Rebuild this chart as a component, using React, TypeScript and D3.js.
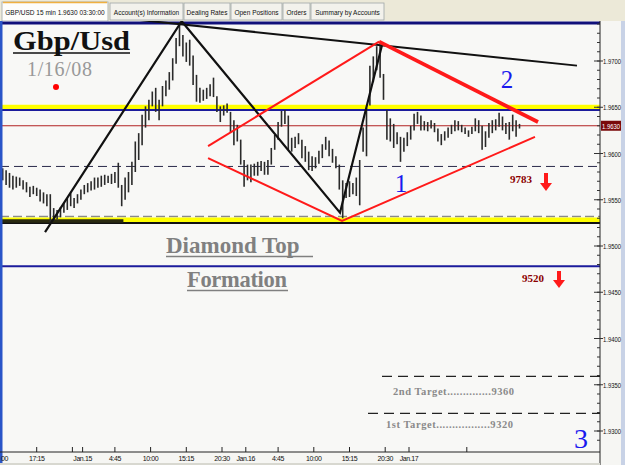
import React from 'react';
import * as d3 from 'd3';

const W = 625;
const H = 465;

// 30-minute groups of the 15-min chart (high / low)
const highs = [
  1.9584, 1.9582, 1.9579, 1.9576, 1.9575, 1.9574, 1.9571, 1.9569, 1.9564, 1.9565,
  1.9563, 1.9561, 1.9558, 1.9556, 1.9556, 1.9541, 1.9539, 1.9542, 1.9547, 1.9552,
  1.9557, 1.9552, 1.9556, 1.9561, 1.9566, 1.9568, 1.9570, 1.9574, 1.9574, 1.9576,
  1.9577, 1.9576, 1.9578, 1.9580, 1.9590, 1.9566, 1.9574, 1.9580, 1.9591, 1.9613,
  1.9622, 1.9642, 1.9651, 1.9658, 1.9667, 1.9671, 1.9658, 1.9673, 1.9679, 1.9688,
  1.9703, 1.9725, 1.9742, 1.9728, 1.9720, 1.9723, 1.9706, 1.9685, 1.9671, 1.9669,
  1.9671, 1.9675, 1.9682, 1.9662, 1.9651, 1.9652, 1.9654, 1.9645, 1.9636, 1.9631,
  1.9615, 1.9593, 1.9588, 1.9588, 1.9589, 1.9591, 1.9592, 1.9591, 1.9593, 1.9606,
  1.9620, 1.9634, 1.9646, 1.9647, 1.9641, 1.9617, 1.9618, 1.9622, 1.9615, 1.9608,
  1.9602, 1.9597, 1.9596, 1.9603, 1.9610, 1.9618, 1.9614, 1.9605, 1.9597, 1.9588,
  1.9571, 1.9568, 1.9570, 1.9568, 1.9574, 1.9593, 1.9628, 1.9649, 1.9695, 1.9705,
  1.9716, 1.9717, 1.9686, 1.9647, 1.9638, 1.9632, 1.9623, 1.9618, 1.9617, 1.9623,
  1.9630, 1.9643, 1.9645, 1.9641, 1.9635, 1.9634, 1.9636, 1.9633, 1.9627, 1.9621,
  1.9624, 1.9628, 1.9631, 1.9636, 1.9635, 1.9631, 1.9628, 1.9625, 1.9629, 1.9638,
  1.9636, 1.9630, 1.9624, 1.9633, 1.9636, 1.9637, 1.9644, 1.9640, 1.9633, 1.9634,
  1.9642, 1.9636, 1.9632,
];
const lows = [
  1.9571, 1.9566, 1.9563, 1.9561, 1.9563, 1.9565, 1.9561, 1.9558, 1.9553, 1.9556,
  1.9554, 1.9548, 1.9546, 1.9543, 1.9524, 1.9527, 1.9529, 1.9531, 1.9536, 1.9539,
  1.9543, 1.9541, 1.9546, 1.9550, 1.9556, 1.9558, 1.9560, 1.9561, 1.9563, 1.9564,
  1.9566, 1.9568, 1.9567, 1.9568, 1.9563, 1.9543, 1.9550, 1.9558, 1.9566, 1.9580,
  1.9593, 1.9609, 1.9628, 1.9636, 1.9651, 1.9645, 1.9636, 1.9651, 1.9662, 1.9669,
  1.9679, 1.9697, 1.9716, 1.9705, 1.9699, 1.9695, 1.9674, 1.9656, 1.9655, 1.9657,
  1.9659, 1.9662, 1.9661, 1.9645, 1.9634, 1.9641, 1.9644, 1.9623, 1.9609, 1.9613,
  1.9588, 1.9564, 1.9571, 1.9569, 1.9576, 1.9576, 1.9581, 1.9577, 1.9577, 1.9588,
  1.9604, 1.9615, 1.9629, 1.9632, 1.9604, 1.9602, 1.9606, 1.9610, 1.9595, 1.9591,
  1.9582, 1.9581, 1.9584, 1.9589, 1.9595, 1.9604, 1.9597, 1.9590, 1.9584, 1.9561,
  1.9530, 1.9552, 1.9553, 1.9556, 1.9554, 1.9544, 1.9602, 1.9597, 1.9652, 1.9677,
  1.9690, 1.9682, 1.9658, 1.9615, 1.9613, 1.9606, 1.9610, 1.9591, 1.9602, 1.9608,
  1.9615, 1.9625, 1.9632, 1.9625, 1.9625, 1.9624, 1.9627, 1.9623, 1.9613, 1.9609,
  1.9614, 1.9617, 1.9621, 1.9624, 1.9625, 1.9623, 1.9621, 1.9618, 1.9621, 1.9624,
  1.9622, 1.9604, 1.9607, 1.9617, 1.9622, 1.9625, 1.9629, 1.9625, 1.9621, 1.9615,
  1.9624, 1.9618, 1.9627,
];

// x axis (15-min bar index from Jan 14 12:00); first label is clipped to "00" in the original
const tickBars = [2, 21, 48, 67, 88, 109, 130, 144, 163, 184, 205, 226, 240];
const tickLabels = ['00', '17:15', 'Jan.15', '4:45', '10:00', '15:15', '20:30', 'Jan.16', '4:45', '10:00', '15:15', '20:30', 'Jan.17'];
const minorTickBars = [42, 274];

const lastPrice = 1.963;
const titleText = 'GBP/USD 15 min 1.9630 03:30:00';
const tabNames = [titleText, 'Account(s) Information', 'Dealing Rates', 'Open Positions', 'Orders', 'Summary by Accounts'];

// horizontal levels
const highLevel = 1.9741;
const resistanceYellow = 1.965;
const resistanceBlue = 1.9647;
const dashedLevel = 1.9586;
const grayDashedLevel = 1.9532;
const supportYellow = 1.9528;
const supportBlack = 1.9525;
const supportEarly = 1.9527;
const necklineBlue = 1.9478;
const target2 = 1.9359;
const target1 = 1.9319;

// annotation lines [bar, price]
const blackZigzag: [number, number][] = [[25.9, 1.9515], [106.3, 1.9743], [199.4, 1.9536], [224.1, 1.9717]];
const blackTop: [number, number][] = [[72.9, 1.9746], [338.8, 1.9695]];
const redUpperLeft: [number, number][] = [[121.8, 1.9608], [222.4, 1.9721]];
const redLower: [number, number][] = [[121.8, 1.9595], [200.6, 1.9527], [314.1, 1.9618]];
const redUpperRight: [number, number][] = [[222.4, 1.9721], [315.9, 1.9634]];

const x = d3.scaleLinear().domain([0, 352]).range([1, 599.4]);
const y = d3.scaleLinear().domain([1.93, 1.97]).range([431, 61]);
const line = d3.line<[number, number]>().x((d) => x(d[0])).y((d) => y(d[1]));

const PL = 0, PR = 600, PT = 21, PB = 452;

function DownArrow({ cx, top, len }: { cx: number; top: number; len: number }) {
  const hw = 6, sw = 2, hh = 8;
  const p = [
    [cx - sw, top], [cx + sw, top], [cx + sw, top + len - hh], [cx + hw, top + len - hh],
    [cx, top + len], [cx - hw, top + len - hh], [cx - sw, top + len - hh],
  ];
  return <polygon points={p.map((q) => q.join(',')).join(' ')} fill="#ff1a1a" />;
}

export default function App() {
  const tabEdges = [[2, 108], [110, 183], [184, 230], [231, 282], [283, 310], [311, 384]];
  const minorPrices = d3.range(1.929, 1.9745, 0.001);
  const majorPrices = d3.range(1.93, 1.9701, 0.005);
  const hLine = (p: number, stroke: string, sw: number, dash?: string, x1 = PL, x2 = PR) => (
    <line x1={x1} x2={x2} y1={y(p)} y2={y(p)} stroke={stroke} strokeWidth={sw} strokeDasharray={dash} />
  );
  return (
    <svg width={W} height={H} style={{ position: 'absolute', left: 0, top: 0 }} fontFamily="Liberation Sans, Arial, sans-serif">
      <defs>
        <clipPath id="plot"><rect x={PL} y={PT} width={PR - PL} height={PB - PT} /></clipPath>
      </defs>
      <rect x={0} y={0} width={W} height={H} fill="#f6f6f3" />
      {/* tabs strip */}
      <rect x={0} y={0} width={W} height={21} fill="#ece9d8" />
      {tabNames.map((t, i) => {
        const [a, b] = tabEdges[i];
        const active = i === 0;
        return (
          <g key={t}>
            <rect x={a} y={active ? 2 : 3} width={b - a} height={active ? 19 : 17} fill={active ? '#fdfdfb' : '#f3f2ec'} stroke="#9ea6a8" strokeWidth={0.8} />
            {active && <line x1={a + 1} x2={b - 1} y1={2.5} y2={2.5} stroke="#f0b040" strokeWidth={1.5} />}
            <text x={(a + b) / 2} y={14.5} fontSize={6.5} textAnchor="middle" fill="#111">{t}</text>
          </g>
        );
      })}
      {/* plot background */}
      <rect x={0} y={PT} width={PR} height={PB - PT} fill="#f8f8f6" />
      <g clipPath="url(#plot)">
        {hLine(highLevel, '#10107a', 3)}
        {hLine(resistanceYellow, '#ffff00', 5)}
        {hLine(resistanceBlue, '#1c1c9c', 2)}
        {hLine(lastPrice, '#b22222', 1)}
        {hLine(dashedLevel, '#2a2a4a', 1, '9,5')}
        {hLine(grayDashedLevel, '#8a8a8a', 1.5, '9,4')}
        {hLine(supportYellow, '#ffff00', 5)}
        {hLine(supportBlack, '#111', 2)}
        {hLine(supportEarly, '#2a2a10', 3.5, undefined, PL, x(72))}
        {hLine(necklineBlue, '#1c1c9c', 2)}
        {hLine(target2, '#222', 1.2, '10,6', 382, PR)}
        {hLine(target1, '#222', 1.2, '10,6', 368, PR)}
        {/* price bars */}
        {highs.map((h, k) => (
          <line key={k} x1={x(1 + 2 * k)} x2={x(1 + 2 * k)} y1={y(h)} y2={y(lows[k])} stroke="#2a2a2a" strokeWidth={1.6} />
        ))}
        {/* annotations */}
        <path d={line(blackTop) || ''} fill="none" stroke="#111" strokeWidth={2} />
        <path d={line(blackZigzag) || ''} fill="none" stroke="#111" strokeWidth={2.2} strokeLinejoin="miter" />
        <path d={line(redUpperLeft) || ''} fill="none" stroke="#ff1a1a" strokeWidth={2} />
        <path d={line(redLower) || ''} fill="none" stroke="#ff1a1a" strokeWidth={2} />
        <path d={line(redUpperRight) || ''} fill="none" stroke="#ff1a1a" strokeWidth={3.8} />
      </g>
      {/* left blue border */}
      <rect x={0} y={PT} width={2.5} height={PB - PT + 13} fill="#2a55c8" />
      {/* right edge */}
      <rect x={621} y={PT} width={4} height={H - PT} fill="#c8d2e6" />
      {/* texts */}
      <text x={13} y={50} fontFamily="Liberation Serif, serif" fontWeight="bold" fontSize={28} fill="#111" textLength={117} lengthAdjust="spacingAndGlyphs">Gbp/Usd</text>
      <line x1={13} x2={130} y1={53} y2={53} stroke="#111" strokeWidth={1.5} />
      <text x={27} y={76} fontFamily="Liberation Serif, serif" fontSize={20} fill="#999" textLength={65}>1/16/08</text>
      <circle cx={56} cy={87} r={3} fill="#ff0000" />
      <text x={166} y={253} fontFamily="Liberation Serif, serif" fontWeight="bold" fontSize={23} fill="#808080">Diamond Top</text>
      <line x1={166} x2={313} y1={256.5} y2={256.5} stroke="#808080" strokeWidth={1.5} />
      <text x={187} y={287} fontFamily="Liberation Serif, serif" fontWeight="bold" fontSize={22.5} fill="#808080" textLength={100}>Formation</text>
      <line x1={187} x2={288} y1={290.5} y2={290.5} stroke="#808080" strokeWidth={1.5} />
      <text x={510} y={183} fontFamily="Liberation Serif, serif" fontWeight="bold" fontSize={11} fill="#8b0000">9783</text>
      <DownArrow cx={546} top={173} len={18} />
      <text x={522} y={282} fontFamily="Liberation Serif, serif" fontWeight="bold" fontSize={11} fill="#8b0000">9520</text>
      <DownArrow cx={559} top={271} len={17} />
      <text x={401} y={192} fontFamily="Liberation Serif, serif" fontSize={25} fill="#1a1aee" textAnchor="middle">1</text>
      <text x={507} y={88} fontFamily="Liberation Serif, serif" fontSize={25} fill="#1a1aee" textAnchor="middle">2</text>
      <text x={581} y={448} fontFamily="Liberation Serif, serif" fontSize={28} fill="#1a1aee" textAnchor="middle">3</text>
      <text x={393} y={395} fontFamily="Liberation Serif, serif" fontWeight="bold" fontSize={10.5} fill="#8a8a8a" textLength={121}>2nd Target..............9360</text>
      <text x={386} y={428} fontFamily="Liberation Serif, serif" fontWeight="bold" fontSize={10.5} fill="#8a8a8a" textLength={127}>1st Target.................9320</text>
      {/* right axis */}
      <line x1={PR} x2={PR} y1={PT} y2={H} stroke="#222" strokeWidth={1} />
      {minorPrices.map((p, i) => (
        <line key={'m' + i} x1={597} x2={PR} y1={y(p)} y2={y(p)} stroke="#333" strokeWidth={1} />
      ))}
      {majorPrices.map((p, i) => (
        <g key={'M' + i}>
          <line x1={594} x2={603} y1={y(p)} y2={y(p)} stroke="#333" strokeWidth={1} />
          <text x={603} y={y(p) + 3} fontSize={7.5} fill="#111" textLength={18} lengthAdjust="spacingAndGlyphs">{p.toFixed(4)}</text>
        </g>
      ))}
      <rect x={601} y={y(lastPrice) - 5} width={20} height={10} fill="#7a0a0a" />
      <text x={602} y={y(lastPrice) + 3} fontSize={7.5} fill="#fff" textLength={18} lengthAdjust="spacingAndGlyphs">{lastPrice.toFixed(4)}</text>
      {/* x axis */}
      <line x1={0} x2={PR} y1={PB} y2={PB} stroke="#222" strokeWidth={1} />
      {[...tickBars.slice(1), ...minorTickBars].map((b, i) => (
        <line key={'t' + i} x1={x(b)} x2={x(b)} y1={PB - 5} y2={PB} stroke="#222" strokeWidth={1} />
      ))}
      {tickBars.map((b, i) => (
        <text key={'l' + i} x={x(b)} y={461} fontSize={7} fill="#111" textAnchor="middle" letterSpacing={-0.4}>{tickLabels[i]}</text>
      ))}
      <rect x={0} y={463} width={PR} height={2} fill="#d8d8d0" />
    </svg>
  );
}
